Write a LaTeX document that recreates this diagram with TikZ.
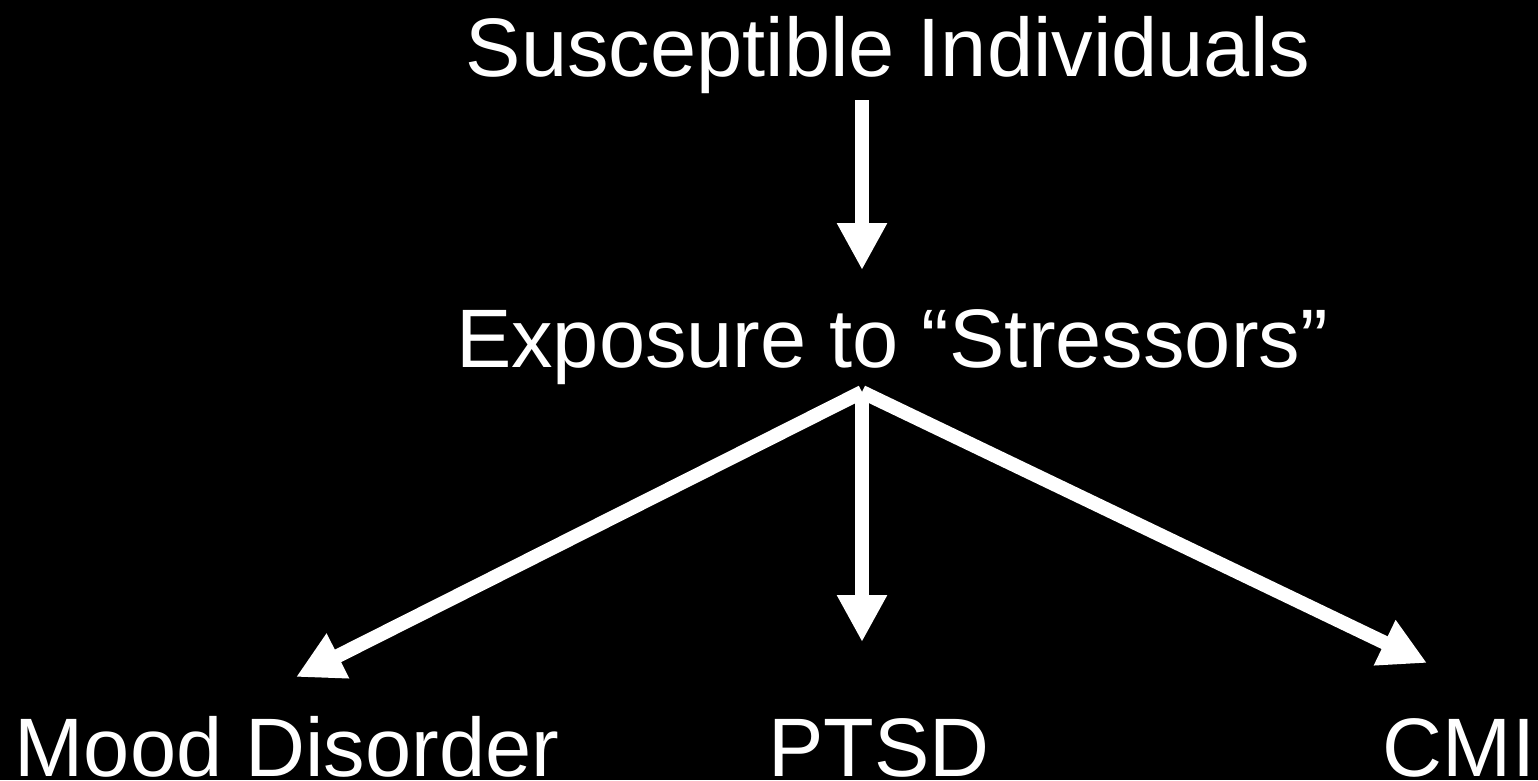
\documentclass[tikz,border=0pt]{standalone}
\usepackage{fontspec}
\setmainfont{Liberation Sans}
\usetikzlibrary{arrows.meta}
\tikzset{
  txt/.style={text=white, inner sep=0pt, anchor=base, font=\fontsize{83}{90}\selectfont},
  arr/.style={draw=white, line width=14pt, -{Triangle[length=47pt,width=47pt]}}
}
\begin{document}
\begin{tikzpicture}[x=1pt,y=-1pt]
\fill[black] (0,0) rectangle (1538,780);
\useasboundingbox (0,0) rectangle (1538,780);
\node[txt] (susc) at (888,76) {Susceptible Individuals};
\node[txt] (expo) at (892,367) {Exposure to “Stressors”};
\node[txt] (mood) at (287,776) {Mood Disorder};
\node[txt] (ptsd) at (879,776) {PTSD};
\node[txt] (cmi) at (1459,776) {CMI};
\coordinate (t1) at (862,100);
\coordinate (t2) at (862,270);
\coordinate (hub) at (862,392);
\coordinate (eL) at (296,677);
\coordinate (eM) at (862,642);
\coordinate (eR) at (1427,663);
\draw[arr] (t1) -- (t2);
\draw[arr] (hub) -- (eL);
\draw[arr] (hub) -- (eM);
\draw[arr] (hub) -- (eR);
\end{tikzpicture}
\end{document}
